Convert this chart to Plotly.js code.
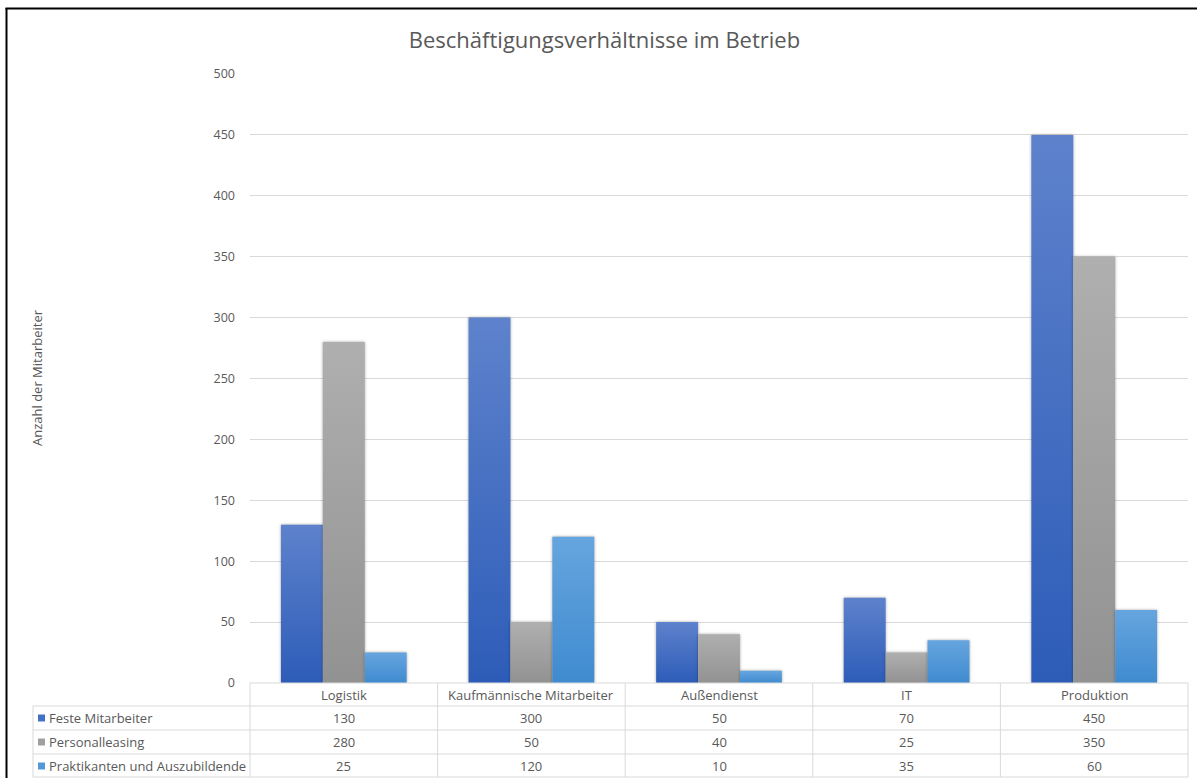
<!DOCTYPE html>
<html>
<head>
<meta charset="utf-8">
<script src="https://cdn.plot.ly/plotly-3.0.1.min.js"></script>
<style>
html,body{margin:0;padding:0;background:#fff;}
#chart{width:1197px;height:778px;}
</style>
</head>
<body>
<div id="chart"></div>
<script>
const categories = ["Logistik", "Kaufmännische Mitarbeiter", "Außendienst", "IT", "Produktion"];
const seriesNames = ["Feste Mitarbeiter", "Personalleasing", "Praktikanten und Auszubildende"];
const festeMitarbeiter = [130, 300, 50, 70, 450];
const personalleasing = [280, 50, 40, 25, 350];
const praktikanten = [25, 120, 10, 35, 60];
const yTicks = [0, 50, 100, 150, 200, 250, 300, 350, 400, 450, 500];

const seriesValues = [festeMitarbeiter, personalleasing, praktikanten];
const colors = ["#4471C6", "#A0A0A0", "#5399D8"];
const gradTop = ["#5E82CC", "#AFAFAF", "#66A5DF"];
const gradBot = ["#2D5CB8", "#929292", "#3F8BCF"];

const W = 1197, H = 778;
const L = 250, R = 1188, T = 74, B = 683;
const pw = R - L, ph = B - T;
const px = x => (x - L) / pw;
const py = y => (B - y) / ph;

const txtColor = "#595959";
const lineColor = "#D9D9D9";
const fontFam = "'Open Sans', 'Liberation Sans', sans-serif";
const tblFont = {size: 13, color: txtColor, family: fontFam};

const traces = seriesValues.map((vals, i) => ({
  type: "bar",
  name: seriesNames[i],
  x: categories,
  y: vals,
  marker: {color: colors[i], line: {width: 0}},
  hoverinfo: "skip"
}));

const shapes = [];
const annotations = [];

// table lines
const rowY = [683, 706, 730, 754, 777];
const colX = [250, 437.6, 625.2, 812.8, 1000.4, 1188];
shapes.push({type:"line", xref:"paper", yref:"paper", x0:px(250), x1:px(1188), y0:py(683), y1:py(683), line:{color:lineColor, width:1}});
for (let r = 1; r < rowY.length; r++) {
  shapes.push({type:"line", xref:"paper", yref:"paper", x0:px(33), x1:px(1188), y0:py(rowY[r]), y1:py(rowY[r]), line:{color:lineColor, width:1}});
}
colX.forEach(x => {
  shapes.push({type:"line", xref:"paper", yref:"paper", x0:px(x), x1:px(x), y0:py(683), y1:py(777), line:{color:lineColor, width:1}});
});
shapes.push({type:"line", xref:"paper", yref:"paper", x0:px(33), x1:px(33), y0:py(706), y1:py(777), line:{color:lineColor, width:1}});

// outer frame (left & top black border)
shapes.push({type:"line", xref:"paper", yref:"paper", x0:px(6.5), x1:px(6.5), y0:py(8), y1:py(780), line:{color:"#000", width:2}});
shapes.push({type:"line", xref:"paper", yref:"paper", x0:px(5.5), x1:px(1200), y0:py(8.5), y1:py(8.5), line:{color:"#000", width:2}});

// category labels (header row)
categories.forEach(c => {
  annotations.push({xref:"x", yref:"paper", x:c, y:py(694.5), text:c, showarrow:false,
    font:tblFont, xanchor:"center", yanchor:"middle"});
});
// series rows
const rowCenters = [718, 742, 766];
seriesValues.forEach((vals, i) => {
  shapes.push({type:"rect", xref:"paper", yref:"paper", x0:px(38), x1:px(45), y0:py(rowCenters[i]-3.5), y1:py(rowCenters[i]+3.5),
    fillcolor:colors[i], line:{width:0}});
  annotations.push({xref:"paper", yref:"paper", x:px(47), y:py(rowCenters[i]), text:seriesNames[i], showarrow:false,
    font:tblFont, xanchor:"left", yanchor:"middle"});
  vals.forEach((v, j) => {
    annotations.push({xref:"x", yref:"paper", x:categories[j], y:py(rowCenters[i]), text:String(v), showarrow:false,
      font:tblFont, xanchor:"center", yanchor:"middle"});
  });
});

// y axis title
annotations.push({xref:"paper", yref:"paper", x:px(37), y:py(378), text:"Anzahl der Mitarbeiter", textangle:-90,
  showarrow:false, font:{size:13, color:txtColor, family:fontFam}, xanchor:"center", yanchor:"middle"});

const layout = {
  width: W, height: H,
  margin: {l: L, r: W - R, t: T, b: H - B, pad: 0},
  paper_bgcolor: "#fff", plot_bgcolor: "#fff",
  font: {family: fontFam, color: txtColor, size: 12},
  title: {text: "Beschäftigungsverhältnisse im Betrieb", x: 0.505, xanchor: "center", y: 1 - 40/H, yanchor: "middle",
    font: {size: 22, color: txtColor, family: fontFam}},
  showlegend: false,
  barmode: "group",
  bargap: 0.33,
  bargroupgap: 0,
  xaxis: {showticklabels: false, ticks: "", showgrid: false, zeroline: false, showline: false, fixedrange: true},
  yaxis: {range: [0, 500], tickvals: yTicks, ticktext: yTicks.map(String), showgrid: true, gridcolor: lineColor, gridwidth: 1,
    zeroline: false, showline: false, ticks: "", ticklabelstandoff: 14,
    tickfont: {size: 12.5, color: txtColor, family: fontFam}, fixedrange: true},
  shapes: shapes,
  annotations: annotations
};

Plotly.newPlot("chart", traces, layout, {displayModeBar: false, staticPlot: true}).then(gd => {
  const svg = gd.querySelector("svg.main-svg");
  const ns = "http://www.w3.org/2000/svg";
  let defs = svg.querySelector("defs");
  if (!defs) { defs = document.createElementNS(ns, "defs"); svg.insertBefore(defs, svg.firstChild); }
  gradTop.forEach((top, i) => {
    const g = document.createElementNS(ns, "linearGradient");
    g.setAttribute("id", "bargrad" + i);
    g.setAttribute("x1", "0"); g.setAttribute("y1", "0"); g.setAttribute("x2", "0"); g.setAttribute("y2", "1");
    const s1 = document.createElementNS(ns, "stop"); s1.setAttribute("offset", "0"); s1.setAttribute("stop-color", top);
    const s2 = document.createElementNS(ns, "stop"); s2.setAttribute("offset", "1"); s2.setAttribute("stop-color", gradBot[i]);
    g.appendChild(s1); g.appendChild(s2); defs.appendChild(g);
  });
  const traceGroups = gd.querySelectorAll("g.barlayer g.trace");
  traceGroups.forEach((tg, i) => {
    tg.querySelectorAll("g.point path").forEach(p => {
      p.style.fill = "url(#bargrad" + i + ")";
      p.style.filter = "drop-shadow(0px 0px 1.5px rgba(0,0,0,0.35))";
    });
  });
});
</script>
</body>
</html>
